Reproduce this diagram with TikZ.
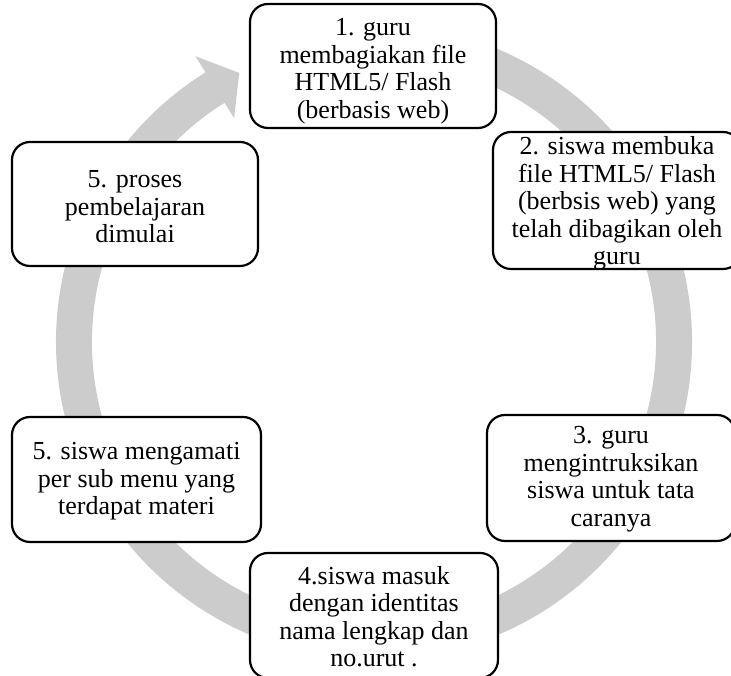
\documentclass[tikz,border=0pt]{standalone}
\usepackage{fontspec}
\setmainfont{Liberation Serif}
\definecolor{ringgray}{RGB}{204,204,204}
\tikzset{
  stepbox/.style={draw=black, line width=2.2pt, rounded corners=18pt, fill=white,
    inner sep=0pt},
  steptext/.style={inner sep=0pt, align=center, font=\fontsize{26}{27.5}\selectfont},
}
\begin{document}
\begin{tikzpicture}[x=1pt,y=1pt]
\useasboundingbox (0,0) rectangle (731,676);
\clip (0,0) rectangle (731,676);
% circular arrow
\begin{scope}[shift={(374,334)}]
\fill[ringgray] (105:318) arc[start angle=105, end angle=-238, radius=318]
  -- (-238:337) -- (-243.4:301) -- (-238:264) -- (-238:282)
  arc[start angle=-238, end angle=105, radius=282] -- cycle;
\end{scope}
% boxes
\node[stepbox, minimum width=246pt, minimum height=124pt] (b1) at (373,610) {};
\node[stepbox, minimum width=248pt, minimum height=137pt] (b2) at (617,475.5) {};
\node[stepbox, minimum width=248pt, minimum height=126pt] (b3) at (611,198) {};
\node[stepbox, minimum width=248pt, minimum height=125pt] (b4) at (374,60.5) {};
\node[stepbox, minimum width=249pt, minimum height=125pt] (b5) at (136.5,196.5) {};
\node[stepbox, minimum width=246pt, minimum height=124pt] (b6) at (135,472) {};
% texts
\node[steptext, yshift=-5pt] (t1) at (b1.center)
  {1. guru\\membagiakan file\\HTML5/ Flash\\(berbasis web)};
\node[steptext, yshift=-3pt] (t2) at (b2.center)
  {2. siswa membuka\\file HTML5/ Flash\\(berbsis web) yang\\telah dibagikan oleh\\guru};
\node[steptext, yshift=-1pt] (t3) at (b3.center)
  {3. guru\\mengintruksikan\\siswa untuk tata\\caranya};
\node[steptext, yshift=-1pt] (t4) at (b4.center)
  {4.siswa masuk\\dengan identitas\\nama lengkap dan\\no.urut .};
\node[steptext, yshift=-2pt] (t5) at (b5.center)
  {5. siswa mengamati\\per sub menu yang\\terdapat materi};
\node[steptext, yshift=-3pt] (t6) at (b6.center)
  {5. proses\\pembelajaran\\dimulai};
\end{tikzpicture}
\end{document}
